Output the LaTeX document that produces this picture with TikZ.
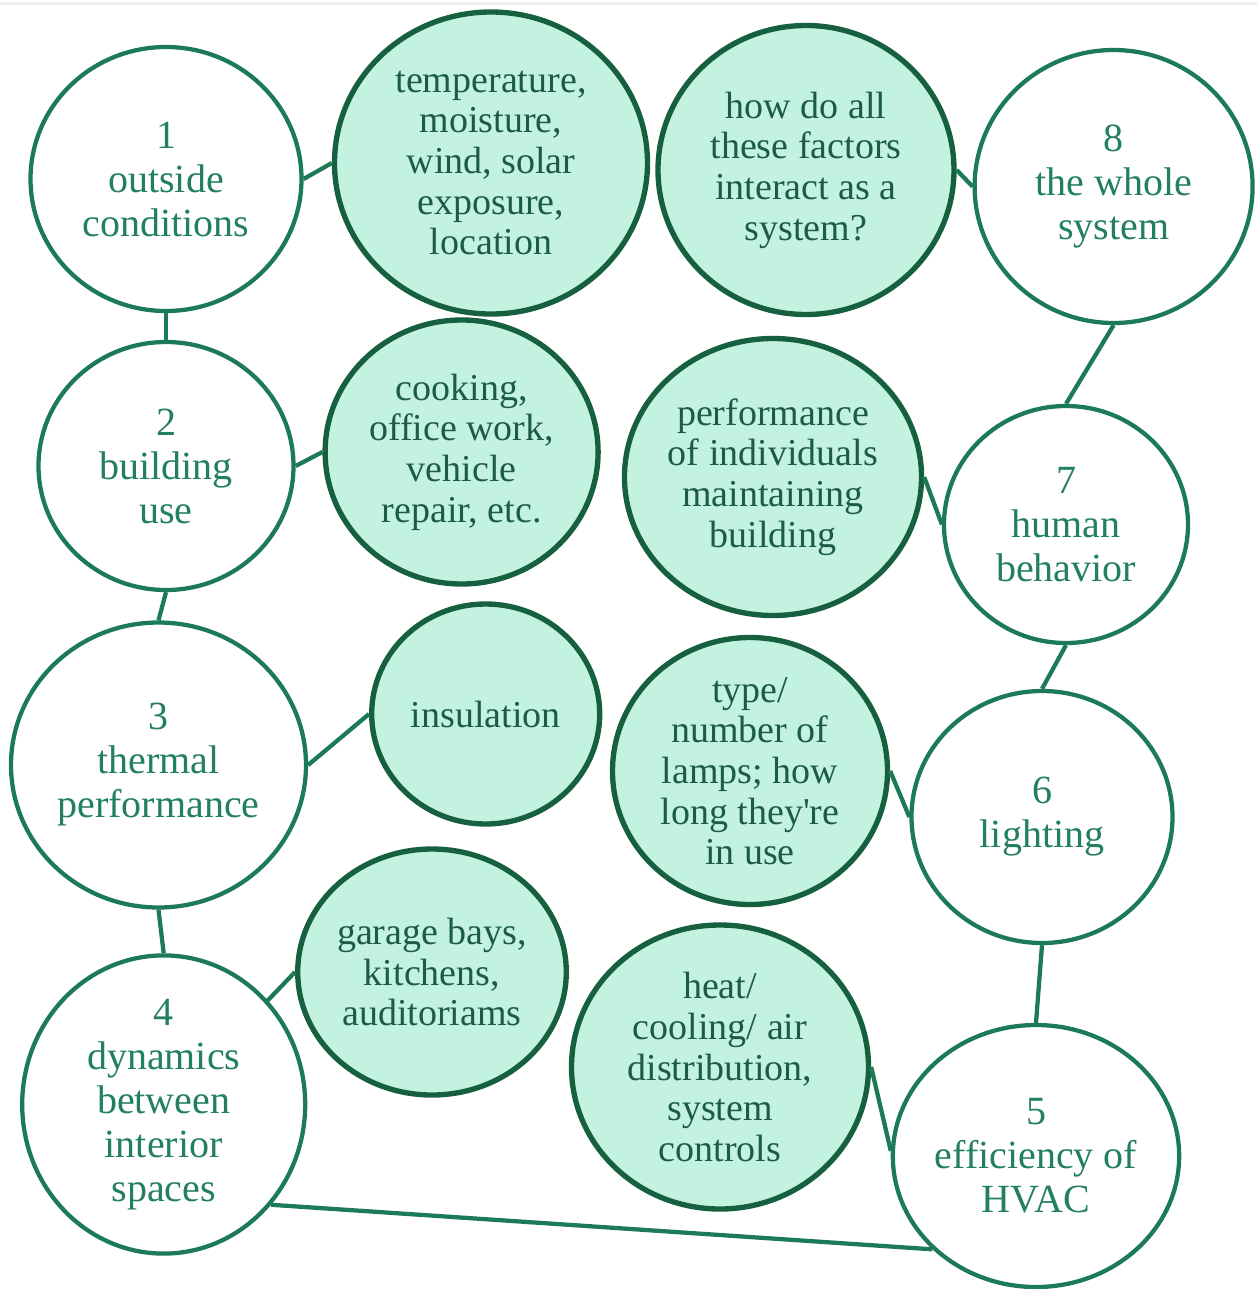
\documentclass[tikz,border=0pt]{standalone}
\usepackage{fontspec}
\setmainfont{Liberation Serif}
\usetikzlibrary{shapes.geometric}
\definecolor{wstroke}{HTML}{1D7A58}
\definecolor{wtext}{HTML}{22805E}
\definecolor{gstroke}{HTML}{166040}
\definecolor{gfill}{HTML}{C4F2E0}
\definecolor{gtext}{HTML}{1C5C45}
\definecolor{topgray}{HTML}{F0F0F0}
\tikzset{
  wcirc/.style={ellipse, draw=wstroke, line width=3.2pt, fill=white, inner sep=0pt,
    align=center, text=wtext, font=\fontsize{30}{33}\selectfont},
  gcirc/.style={ellipse, draw=gstroke, line width=4pt, fill=gfill, inner sep=0pt,
    align=center, text=gtext, font=\fontsize{28.5}{30.5}\selectfont},
  link/.style={draw=wstroke, line width=3.2pt},
}
\begin{document}
\begin{tikzpicture}[x=0.75pt,y=-0.75pt]
\useasboundingbox (0,0) rectangle (1257,1289);
\fill[topgray] (0,1.5) rectangle (1257,5);
% white circles
\node[wcirc, minimum width=203.25pt, minimum height=198pt] (n1) at (166,179) {1\\outside\\conditions};
\node[wcirc, minimum width=191.25pt, minimum height=186pt] (n2) at (166,466) {2\\building\\use};
\node[wcirc, minimum width=221.25pt, minimum height=213.75pt] (n3) at (158.5,765) {3\\thermal\\performance};
\node[wcirc, minimum width=212.25pt, minimum height=207.75pt] (n4) at (163.7,1104.5) {4\\dynamics\\between\\interior\\spaces};
\node[wcirc, minimum width=210pt, minimum height=196.5pt] (n5) at (1036,1156) {5\\efficiency of\\HVAC};
\node[wcirc, minimum width=195.75pt, minimum height=189pt] (n6) at (1042,817) {6\\lighting};
\node[wcirc, minimum width=183pt, minimum height=177.75pt] (n7) at (1066,524.5) {7\\human\\behavior};
\node[wcirc, minimum width=208.5pt, minimum height=204.75pt] (n8) at (1113.6,186.5) {8\\the whole\\system};
% green circles
\node[gcirc, minimum width=234.75pt, minimum height=226.5pt] (gA) at (491,163) {temperature,\\moisture,\\wind, solar\\exposure,\\location};
\node[gcirc, minimum width=222pt, minimum height=216.75pt] (gB) at (806,170) {how do all\\these factors\\interact as a\\system?};
\node[gcirc, minimum width=204.75pt, minimum height=198pt] (gC) at (461.6,452) {cooking,\\office work,\\vehicle\\repair, etc.};
\node[gcirc, minimum width=221.25pt, minimum height=207.75pt] (gD) at (773,477) {performance\\of individuals\\maintaining\\building};
\node[gcirc, minimum width=171pt, minimum height=165pt] (gE) at (485.7,714) {insulation};
\node[gcirc, minimum width=206.25pt, minimum height=200.25pt] (gF) at (750,771) {type/\\number of\\lamps; how\\long they\textquotesingle re\\in use};
\node[gcirc, minimum width=192pt, minimum height=184.5pt] (gG) at (432,972) {garage bays,\\kitchens,\\auditoriams};
\node[gcirc, minimum width=222.75pt, minimum height=213pt] (gH) at (720,1067) {heat/\\cooling/ air\\distribution,\\system\\controls};
% connectors
\path[link] (n1.0) -- (gA.180);
\path[link] (n1.270) -- (n2.90);
\path[link] (n2.0) -- (gC.180);
\path[link] (n2.270) -- (n3.90);
\path[link] (n3.0) -- (gE.180);
\path[link] (n3.270) -- (n4.90);
\path[link] (n4.45) -- (gG.180);
\path[link] (n4.-43) -- (n5.-138);
\path[link] (gH.0) -- (n5.178);
\path[link] (n6.270) -- (n5.90);
\path[link] (gF.0) -- (n6.180);
\path[link] (n6.90) -- (n7.270);
\path[link] (gD.0) -- (n7.180);
\path[link] (n7.90) -- (n8.270);
\path[link] (gB.0) -- (n8.180);
\end{tikzpicture}
\end{document}
